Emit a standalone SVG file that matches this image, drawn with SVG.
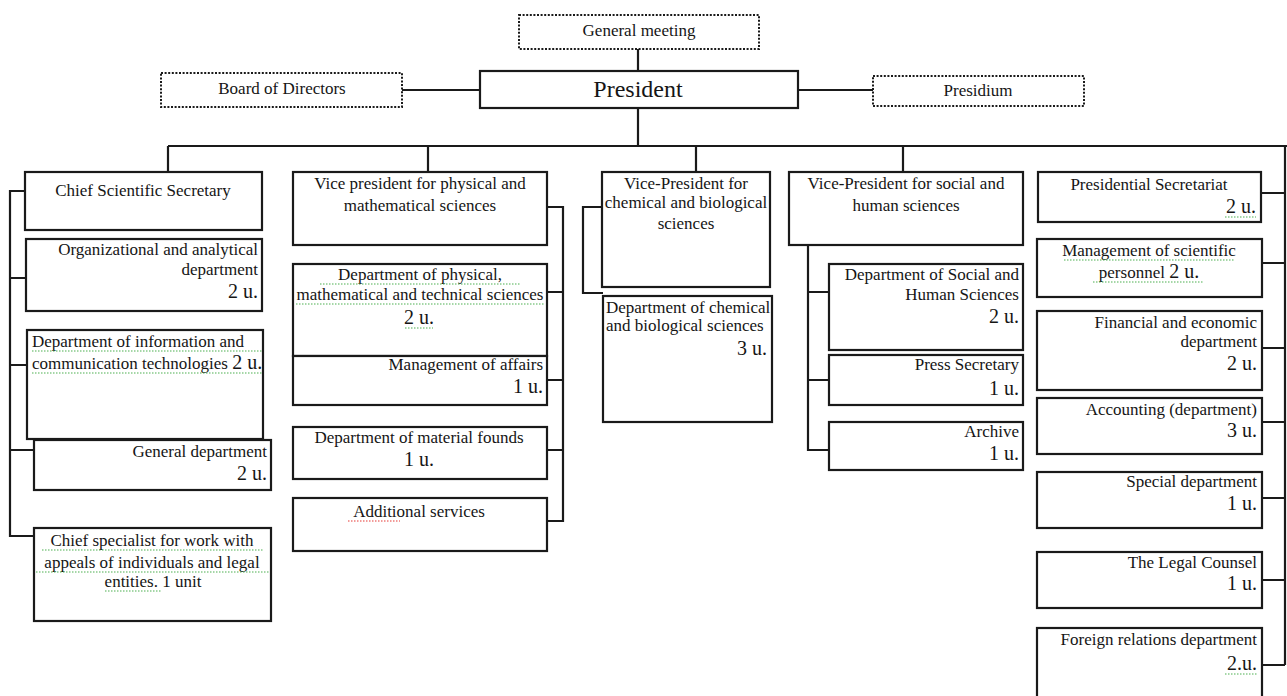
<svg xmlns="http://www.w3.org/2000/svg" width="1287" height="696" viewBox="0 0 1287 696">
<style>
.box{fill:#fff;stroke:#1a1a1a;stroke-width:2.2}
.dot{fill:#fff;stroke:#1a1a1a;stroke-width:2;stroke-dasharray:2 1.6}
.conn{fill:none;stroke:#1a1a1a;stroke-width:2.2}
text{font-family:'Liberation Serif','Times New Roman',serif;font-size:17px;fill:#151515}
.u{font-size:20px}
.big{font-size:24px}
.c{text-anchor:middle}
.r{text-anchor:end}
.sg{fill:none;stroke:#4caf50;stroke-width:1.2;stroke-dasharray:1.5 1.5}
.sr{fill:none;stroke:#e53935;stroke-width:1.2;stroke-dasharray:1.5 1.5}
</style>
<rect width="1287" height="696" fill="#fff"/>
<g id="connectors">
<path class="conn" d="M638 49V71M402 90H480M798 90H873M638 108V146M168 146H1287M168 146V172M428 146V172M696 146V172M903 146V172"/>
<path class="conn" d="M1285 146V665M1261 193H1285M1262 263H1285M1262 348H1285M1262 422H1285M1262 498H1285M1262 580H1285M1262 665H1285"/>
<path class="conn" d="M25 191H10V536H34M10 278H26M10 365H27M10 450H34"/>
<path class="conn" d="M547 207H563V521H547M547 292H563M547 380H563M547 450H563"/>
<path class="conn" d="M602 207H583V293H603"/>
<path class="conn" d="M808 245V450H829M808 292H829M808 380H829"/>
</g>
<g id="general-meeting"><rect class="dot" x="519" y="15" width="240" height="34"/><text class="c" x="639" y="36">General meeting</text></g>
<g id="president"><rect class="box" x="480" y="71" width="318" height="37"/><text class="c big" x="638" y="97">President</text></g>
<g id="board"><rect class="dot" x="161" y="73" width="241" height="34"/><text class="c" x="282" y="94">Board of Directors</text></g>
<g id="presidium"><rect class="dot" x="873" y="76" width="211" height="30"/><text class="c" x="978" y="96">Presidium</text></g>

<g id="chief-secretary"><rect class="box" x="25" y="172" width="237" height="58"/><text class="c" x="143" y="196">Chief Scientific Secretary</text></g>
<g id="org-analytical"><rect class="box" x="26" y="239" width="236" height="72"/><text class="r" x="258" y="255">Organizational and analytical</text><text class="r" x="258" y="275">department</text><text class="r u" x="258" y="298">2 u.</text></g>
<g id="info-comm"><rect class="box" x="27" y="330" width="236" height="109"/><text x="32" y="347">Department of information and</text><text x="32" y="369">communication technologies <tspan class="u">2 u.</tspan></text></g>
<g id="general-dept"><rect class="box" x="34" y="440" width="237" height="50"/><text class="r" x="267" y="457">General department</text><text class="r u" x="267" y="480">2 u.</text></g>
<g id="chief-specialist"><rect class="box" x="34" y="528" width="237" height="93"/><text class="c" x="152" y="546">Chief specialist for work with</text><text class="c" x="152" y="568">appeals of individuals and legal</text><text class="c" x="153" y="587">entities. 1 unit</text></g>

<g id="vp-physical"><rect class="box" x="293" y="172" width="254" height="73"/><text class="c" x="420" y="189">Vice president for physical and</text><text class="c" x="420" y="211">mathematical sciences</text></g>
<g id="dept-physical"><rect class="box" x="293" y="264" width="254" height="92"/><text class="c" x="420" y="280">Department of physical,</text><text class="c" x="420" y="300">mathematical and technical sciences</text><text class="c u" x="419" y="324">2 u.</text></g>
<g id="affairs"><rect class="box" x="293" y="356" width="254" height="49"/><text class="r" x="543" y="370">Management of affairs</text><text class="r u" x="543" y="393">1 u.</text></g>
<g id="material"><rect class="box" x="293" y="427" width="254" height="52"/><text class="c" x="419" y="443">Department of material founds</text><text class="c u" x="419" y="466">1 u.</text></g>
<g id="additional"><rect class="box" x="293" y="498" width="254" height="53"/><text class="c" x="419" y="517">Additional services</text></g>

<g id="vp-chemical"><rect class="box" x="602" y="172" width="168" height="115"/><text class="c" x="686" y="189">Vice-President for</text><text class="c" x="686" y="208">chemical and biological</text><text class="c" x="686" y="229">sciences</text></g>
<g id="dept-chemical"><rect class="box" x="603" y="296" width="169" height="126"/><text x="606" y="313">Department of chemical</text><text x="606" y="331">and biological sciences</text><text class="r u" x="767" y="355">3 u.</text></g>

<g id="vp-social"><rect class="box" x="789" y="172" width="234" height="73"/><text class="c" x="906" y="189">Vice-President for social and</text><text class="c" x="906" y="211">human sciences</text></g>
<g id="dept-social"><rect class="box" x="829" y="264" width="194" height="86"/><text class="r" x="1019" y="280">Department of Social and</text><text class="r" x="1019" y="300">Human Sciences</text><text class="r u" x="1019" y="323">2 u.</text></g>
<g id="press"><rect class="box" x="829" y="355" width="194" height="50"/><text class="r" x="1019" y="370">Press Secretary</text><text class="r u" x="1019" y="395">1 u.</text></g>
<g id="archive"><rect class="box" x="829" y="422" width="194" height="48"/><text class="r" x="1019" y="437">Archive</text><text class="r u" x="1019" y="460">1 u.</text></g>

<g id="pres-secretariat"><rect class="box" x="1038" y="172" width="223" height="50"/><text class="c" x="1149" y="190">Presidential Secretariat</text><text class="r u" x="1256" y="213">2 u.</text></g>
<g id="sci-personnel"><rect class="box" x="1037" y="239" width="225" height="58"/><text class="c" x="1149" y="256">Management of scientific</text><text class="c" x="1149" y="278">personnel <tspan class="u">2 u.</tspan></text></g>
<g id="financial"><rect class="box" x="1037" y="311" width="225" height="79"/><text class="r" x="1257" y="328">Financial and economic</text><text class="r" x="1257" y="347">department</text><text class="r u" x="1257" y="370">2 u.</text></g>
<g id="accounting"><rect class="box" x="1037" y="398" width="225" height="56"/><text class="r" x="1257" y="415">Accounting (department)</text><text class="r u" x="1257" y="437">3 u.</text></g>
<g id="special"><rect class="box" x="1037" y="472" width="225" height="56"/><text class="r" x="1257" y="487">Special department</text><text class="r u" x="1257" y="510">1 u.</text></g>
<g id="legal"><rect class="box" x="1037" y="552" width="225" height="56"/><text class="r" x="1257" y="568">The Legal Counsel</text><text class="r u" x="1257" y="590">1 u.</text></g>
<g id="foreign"><rect class="box" x="1037" y="628" width="225" height="75"/><text class="r" x="1257" y="645">Foreign relations department</text><text class="r u" x="1257" y="670">2.u.</text></g>

<g id="spellcheck">
<path class="sg" d="M32 351H262M32 373H262M320 284H520M296 304H545M405 328H433M1064 260H1234M1093 282H1204M1225 217H1256M1225 674H1257M42 550H264M36 572H270M105 591H162"/>
<path class="sr" d="M348 521H400"/>
</g>
</svg>
